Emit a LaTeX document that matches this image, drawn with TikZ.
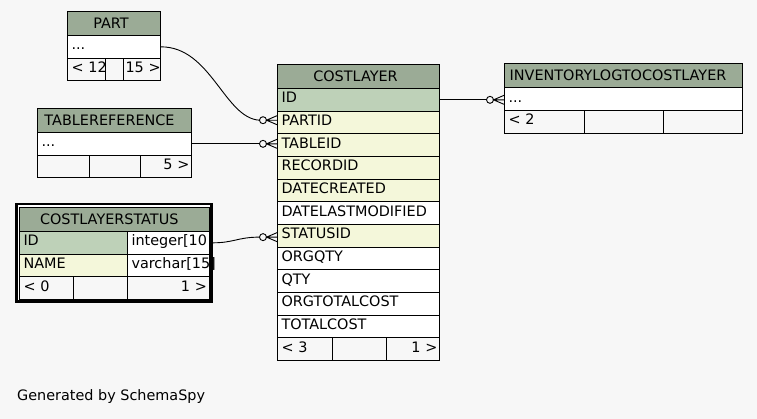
\documentclass[tikz,border=0pt]{standalone}
\usepackage{fontspec}
\setmainfont{DejaVu Sans}
\usetikzlibrary{calc}
\definecolor{bg}{HTML}{F7F7F7}
\definecolor{hdr}{HTML}{9BAB96}
\definecolor{pk}{HTML}{BED1B8}
\definecolor{fk}{HTML}{F4F7DA}
\begin{document}
\begin{tikzpicture}[x=1pt,y=-1pt, font=\fontsize{14.4}{16}\selectfont,
  box/.style={draw=black, line width=1pt, rectangle, anchor=north west, inner xsep=4pt, inner ysep=0pt, align=left},
  hd/.style={box, fill=hdr, text height=11pt, text depth=1pt, minimum height=24pt, align=center},
  rw/.style={box, fill=white, text height=10pt, text depth=4pt, minimum height=22.67pt},
  ft/.style={rw, fill=bg},
  ftr/.style={ft, align=right, inner xsep=2pt},
  conn/.style={draw=black, line width=0.9pt},
]
\fill[bg] (0,0) rectangle (757,419);
\useasboundingbox (0,0) rectangle (757,419);

% PART
\node[hd, text width=85pt] (part-h) at (67,11) {\hspace*{-6pt}PART};
\node[rw, text width=85pt] (part-r) at (67,35) {...};
\node[ft, text width=10pt] (part-f2) at (105,57.67) {};
\node[ft, text width=30pt] (part-f1) at (67,57.67) {<~12};
\node[ftr, text width=33pt] (part-f3) at (123,57.67) {15~>};

% TABLEREFERENCE
\node[hd, text width=146pt] (tr-h) at (37,108) {\hspace*{-10pt}TABLEREFERENCE};
\node[rw, text width=146pt] (tr-r) at (37,132) {...};
\node[ft, text width=44pt] (tr-f1) at (37,154.67) {};
\node[ft, text width=43pt] (tr-f2) at (89,154.67) {};
\node[ftr, text width=47pt] (tr-f3) at (140,154.67) {5~>};

% COSTLAYERSTATUS
\draw[line width=2.5pt, fill=white] (16.25,204.25) rectangle (211.25,301.75);
\node[hd, text width=181.5pt] (cls-h) at (19,207) {\hspace*{-10pt}COSTLAYERSTATUS};
\node[rw, fill=pk, text width=100pt] (cls-id) at (19,231) {ID};
\node[rw, text width=73.5pt] (cls-idt) at (127,231) {integer[10};
\node[rw, fill=fk, text width=100pt] (cls-name) at (19,253.67) {NAME};
\node[rw, text width=73.5pt] (cls-namet) at (127,253.67) {varchar[15]};
\node[ft, text width=46pt] (cls-f2) at (73,276.33) {};
\node[ft, text width=46pt] (cls-f1) at (19,276.33) {<~0};
\node[ftr, text width=77.5pt] (cls-f3) at (127,276.33) {1~>};

% COSTLAYER
\node[hd, text width=154pt] (cl-h) at (277,64) {\hspace*{-6pt}COSTLAYER};
\node[rw, fill=pk, text width=154pt] (cl-id) at (277,88) {ID};
\node[rw, fill=fk, text width=154pt] (cl-partid) at (277,110.67) {PARTID};
\node[rw, fill=fk, text width=154pt] (cl-tableid) at (277,133.33) {TABLEID};
\node[rw, fill=fk, text width=154pt] (cl-recordid) at (277,156) {RECORDID};
\node[rw, fill=fk, text width=154pt] (cl-datecreated) at (277,178.67) {DATECREATED};
\node[rw, text width=154pt] (cl-datelastmod) at (277,201.33) {DATELASTMODIFIED};
\node[rw, fill=fk, text width=154pt] (cl-statusid) at (277,224) {STATUSID};
\node[rw, text width=154pt] (cl-orgqty) at (277,246.67) {ORGQTY};
\node[rw, text width=154pt] (cl-qty) at (277,269.33) {QTY};
\node[rw, text width=154pt] (cl-orgtotal) at (277,292) {ORGTOTALCOST};
\node[rw, text width=154pt] (cl-total) at (277,314.67) {TOTALCOST};
\node[ft, text width=46pt] (cl-f2) at (332,337.33) {};
\node[ft, text width=47pt] (cl-f1) at (277,337.33) {<~3};
\node[ftr, text width=49pt] (cl-f3) at (386,337.33) {1~>};

% INVENTORYLOGTOCOSTLAYER
\node[hd, text width=230pt] (il-h) at (504,63.3) {\hspace*{-11pt}INVENTORYLOGTOCOSTLAYER};
\node[rw, text width=230pt] (il-r) at (504,87.3) {...};
\node[ft, text width=72.3pt] (il-f1) at (504,109.97) {<~2};
\node[ft, text width=71pt] (il-f2) at (584.3,109.97) {};
\node[ft, text width=70.7pt] (il-f3) at (663.3,109.97) {};

% footer text
\node[anchor=base west, inner sep=0pt] (gen) at (17,400.7) {Generated by SchemaSpy};

% connectors
\coordinate (e1) at ($(cl-partid.west)+(0,-2.3)$);
\coordinate (e2) at (cl-tableid.west |- tr-r.east);
\coordinate (e3) at ($(cl-statusid.west)+(0,1.3)$);
\coordinate (e4) at (il-r.west |- cl-id.east);

\draw[conn] (part-r.east) .. controls +(50,0) and +(-35,-2) .. ($(e1)+(-17.5,0)$);
\draw[conn] (tr-r.east) -- ($(e2)+(-17.5,0)$);
\draw[conn] ($(cls-idt.east)+(2.8,0)$) .. controls +(22,0) and +(-22,0) .. ($(e3)+(-17.5,0)$);
\draw[conn] (cl-id.east) -- ($(e4)+(-17.5,0)$);

\foreach \e in {e1,e2,e3,e4} {
  \draw[conn] ($(\e)+(-14,0)$) circle[radius=3.5pt];
  \draw[conn] ($(\e)+(0,-4.5)$) -- ($(\e)+(-10.5,0)$) -- ($(\e)+(0,4.5)$)
              ($(\e)+(-10.5,0)$) -- (\e);
}
\end{tikzpicture}
\end{document}
